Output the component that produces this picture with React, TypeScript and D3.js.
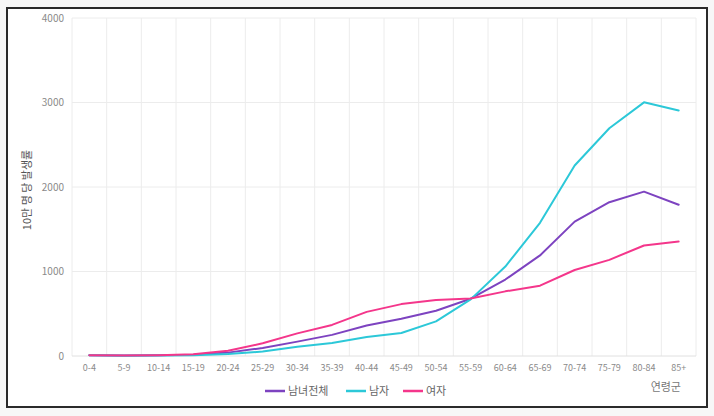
import React from "react";
import * as d3 from "d3";

const categories = ["0-4","5-9","10-14","15-19","20-24","25-29","30-34","35-39","40-44","45-49","50-54","55-59","60-64","65-69","70-74","75-79","80-84","85+"];
const totalValues = [10,5,8,15,40,95,170,250,360,440,535,678,905,1190,1590,1820,1945,1790];
const maleValues = [10,3,5,10,25,52,110,154,225,272,410,670,1058,1576,2255,2695,3002,2905];
const femaleValues = [10,5,8,20,62,150,268,368,522,614,662,680,765,832,1018,1138,1308,1355];
const yTicks = [0,1000,2000,3000,4000];
const seriesNames = ["남녀전체","남자","여자"];
const seriesColors = ["#7d43c0","#2cc8d8","#f4368b"];

export default function App() {
  const W = 714, H = 416;
  const left = 72, right = 696, top = 18, bottom = 356;
  const x = d3.scaleBand<string>().domain(categories).range([left, right]);
  const y = d3.scaleLinear().domain([0, 4000]).range([bottom, top]);
  const series = [totalValues, maleValues, femaleValues];
  const line = d3.line<number>()
    .x((_, i) => (x(categories[i]) as number) + x.bandwidth() / 2)
    .y((d) => y(d))
    .curve(d3.curveLinear);
  const font = "'Noto Sans CJK KR', 'Noto Sans', sans-serif";
  const legendX = [265, 346, 403];
  return (
    <svg width={W} height={H} style={{ position: "absolute", left: 0, top: 0, background: "#f7f7f7" }} fontFamily={font}>
      <rect x={7} y={8} width={700} height={399} fill="#ffffff" stroke="#2a2a2a" strokeWidth={2} />
      {categories.map((c, i) => (
        <line key={"vg" + i} x1={x(c) as number} x2={x(c) as number} y1={top} y2={bottom} stroke="#ececec" strokeWidth={1} />
      ))}
      <line x1={right} x2={right} y1={top} y2={bottom} stroke="#ececec" strokeWidth={1} />
      {yTicks.map((t) => (
        <g key={"yt" + t}>
          <line x1={left} x2={right} y1={y(t)} y2={y(t)} stroke={t === 0 ? "#e0e0e0" : "#ececec"} strokeWidth={1} />
          <text x={64} y={y(t)} dy="0.35em" textAnchor="end" fontSize={10} fill="#8a8a8a">{t}</text>
        </g>
      ))}
      {categories.map((c) => (
        <text key={"xl" + c} x={(x(c) as number) + x.bandwidth() / 2} y={368} dy="0.35em" textAnchor="middle" fontSize={9} fill="#8a8a8a">{c}</text>
      ))}
      <text transform={`translate(27,${190}) rotate(-90)`} textAnchor="middle" dy="0.35em" fontSize={11} fill="#555">10만 명 당 발생률</text>
      {series.map((s, k) => (
        <path key={"s" + k} d={line(s) as string} fill="none" stroke={seriesColors[k]} strokeWidth={2} strokeLinejoin="round" strokeLinecap="round" />
      ))}
      {seriesNames.map((n, k) => (
        <g key={"lg" + k}>
          <line x1={legendX[k]} x2={legendX[k] + 20} y1={391} y2={391} stroke={seriesColors[k]} strokeWidth={2.5} />
          <text x={legendX[k] + 23} y={391} dy="0.35em" fontSize={11} fill="#666">{n}</text>
        </g>
      ))}
      <text x={681} y={387} dy="0.35em" textAnchor="end" fontSize={11} fill="#777">연령군</text>
    </svg>
  );
}
